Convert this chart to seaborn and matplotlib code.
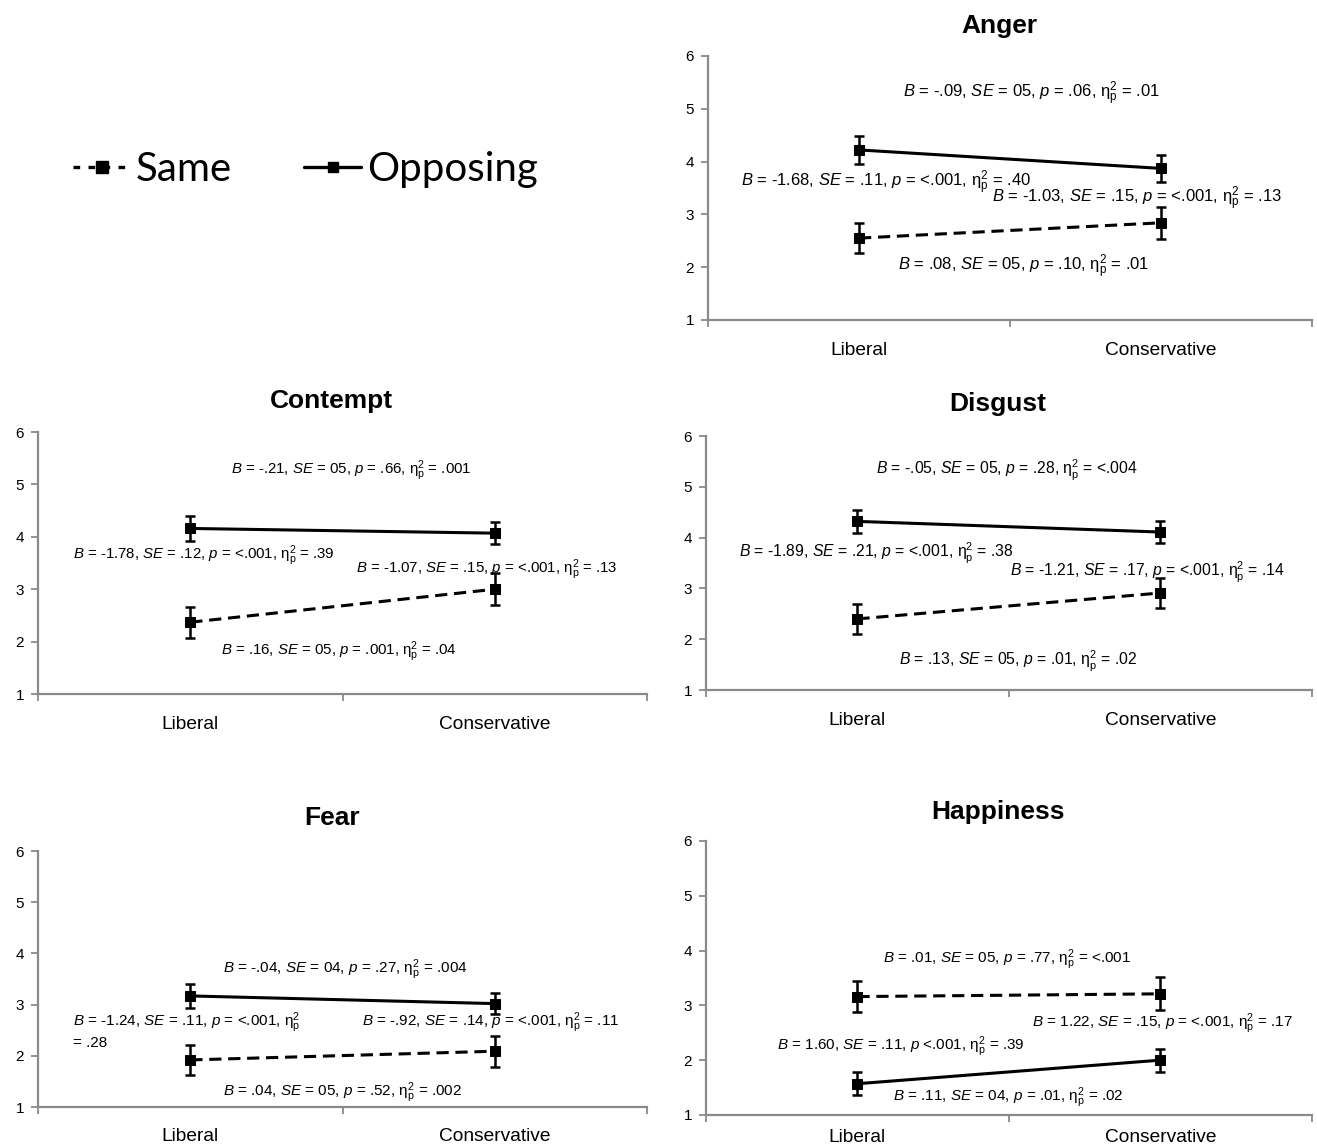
import numpy as np
import pandas as pd
import matplotlib
matplotlib.use("Agg")
import matplotlib.pyplot as plt
from matplotlib.lines import Line2D
from matplotlib.ticker import FixedLocator
import seaborn as sns

# ---- data ----
emotions = ["Anger", "Contempt", "Disgust", "Fear", "Happiness"]
ideology = ["Liberal", "Conservative"]
conditions = ["Same", "Opposing"]

same_lib = [2.55, 2.37, 2.40, 1.92, 3.16]
same_con = [2.84, 3.00, 2.91, 2.09, 3.21]
same_lib_err = [0.29, 0.30, 0.29, 0.29, 0.29]
same_con_err = [0.30, 0.31, 0.29, 0.30, 0.30]

opp_lib = [4.22, 4.16, 4.32, 3.17, 1.57]
opp_con = [3.87, 4.07, 4.11, 3.02, 2.00]
opp_lib_err = [0.26, 0.24, 0.23, 0.23, 0.21]
opp_con_err = [0.26, 0.21, 0.22, 0.21, 0.21]

ETA = r"η$_\mathrm{p}^2$"
stats = {
    "Anger": [
        r"$B$ = -.09, $SE$ = 05, $p$ = .06, " + ETA + " = .01",
        r"$B$ = -1.68, $SE$ = .11, $p$ = <.001, " + ETA + " = .40",
        r"$B$ = -1.03, $SE$ = .15, $p$ = <.001, " + ETA + " = .13",
        r"$B$ = .08, $SE$ = 05, $p$ = .10, " + ETA + " = .01",
    ],
    "Contempt": [
        r"$B$ = -.21, $SE$ = 05, $p$ = .66, " + ETA + " = .001",
        r"$B$ = -1.78, $SE$ = .12, $p$ = <.001, " + ETA + " = .39",
        r"$B$ = -1.07, $SE$ = .15, $p$ = <.001, " + ETA + " = .13",
        r"$B$ = .16, $SE$ = 05, $p$ = .001, " + ETA + " = .04",
    ],
    "Disgust": [
        r"$B$ = -.05, $SE$ = 05, $p$ = .28, " + ETA + " = <.004",
        r"$B$ = -1.89, $SE$ = .21, $p$ = <.001, " + ETA + " = .38",
        r"$B$ = -1.21, $SE$ = .17, $p$ = <.001, " + ETA + " = .14",
        r"$B$ = .13, $SE$ = 05, $p$ = .01, " + ETA + " = .02",
    ],
    "Fear": [
        r"$B$ = -.04, $SE$ = 04, $p$ = .27, " + ETA + " = .004",
        r"$B$ = -1.24, $SE$ = .11, $p$ = <.001, " + ETA + "\n= .28",
        r"$B$ = -.92, $SE$ = .14, $p$ = <.001, " + ETA + " = .11",
        r"$B$ = .04, $SE$ = 05, $p$ = .52, " + ETA + " = .002",
    ],
    "Happiness": [
        r"$B$ = .01, $SE$ = 05, $p$ = .77, " + ETA + " = <.001",
        r"$B$ = 1.60, $SE$ = .11, $p$ <.001, " + ETA + " = .39",
        r"$B$ = 1.22, $SE$ = .15, $p$ = <.001, " + ETA + " = .17",
        r"$B$ = .11, $SE$ = 04, $p$ = .01, " + ETA + " = .02",
    ],
}

# ---- layout (positions only) ----
axes_rect = {
    "Anger": [0.5376, 0.7208, 0.4586, 0.2304],
    "Contempt": [0.0289, 0.3944, 0.4624, 0.2286],
    "Disgust": [0.5360, 0.3979, 0.4601, 0.2216],
    "Fear": [0.0289, 0.0340, 0.4624, 0.2234],
    "Happiness": [0.5360, 0.0271, 0.4601, 0.2391],
}
text_pos = {
    "Anger": [(0.57, 5.28, "center"), (-0.39, 3.59, "left"), (0.44, 3.29, "left"), (0.13, 2.0, "left")],
    "Contempt": [(0.135, 5.27, "left"), (-0.386, 3.63, "left"), (0.545, 3.37, "left"), (0.10, 1.80, "left")],
    "Disgust": [(0.063, 5.33, "left"), (-0.39, 3.68, "left"), (0.503, 3.32, "left"), (0.136, 1.57, "left")],
    "Fear": [(0.109, 3.68, "left"), (-0.386, 2.50, "left"), (0.564, 2.64, "left"), (0.109, 1.27, "left")],
    "Happiness": [(0.083, 3.83, "left"), (-0.265, 2.24, "left"), (0.576, 2.66, "left"), (0.116, 1.31, "left")],
}
text_size = {"Anger": 12.0, "Contempt": 10.8, "Disgust": 11.3, "Fear": 11.0, "Happiness": 11.0}
title_y = {"Anger": 1.085, "Contempt": 1.09, "Disgust": 1.10, "Fear": 1.10, "Happiness": 1.08}
label_pad = {"Anger": 16, "Contempt": 16, "Disgust": 16, "Fear": 15, "Happiness": 10}

rows = []
for i, emo in enumerate(emotions):
    rows += [
        (emo, "Same", "Liberal", same_lib[i], same_lib_err[i]),
        (emo, "Same", "Conservative", same_con[i], same_con_err[i]),
        (emo, "Opposing", "Liberal", opp_lib[i], opp_lib_err[i]),
        (emo, "Opposing", "Conservative", opp_con[i], opp_con_err[i]),
    ]
df = pd.DataFrame(rows, columns=["Emotion", "Condition", "Ideology", "Rating", "Err"])

sns.set_theme(style="white")
plt.rcParams["font.family"] = ["Liberation Sans", "DejaVu Sans"]
plt.rcParams["mathtext.fontset"] = "custom"
plt.rcParams["mathtext.rm"] = "Liberation Sans"
plt.rcParams["mathtext.it"] = "Liberation Sans:italic"
plt.rcParams["text.color"] = "black"
plt.rcParams["xtick.labelcolor"] = "black"
plt.rcParams["ytick.labelcolor"] = "black"

AXIS_GREY = "#8a8a8a"
fig = plt.figure(figsize=(13.17, 11.46), dpi=100)

for emo in emotions:
    ax = fig.add_axes(axes_rect[emo])
    sub = df[df["Emotion"] == emo]
    sns.lineplot(
        data=sub, x="Ideology", y="Rating", style="Condition",
        style_order=conditions,
        dashes={"Same": (4, 2.2), "Opposing": ""},
        markers={"Same": "s", "Opposing": "s"},
        color="black", linewidth=2.2, markersize=7, markeredgecolor="black",
        sort=False, legend=False, ax=ax,
    )
    for cond in conditions:
        c = sub[sub["Condition"] == cond]
        ax.errorbar(np.arange(len(ideology)), c["Rating"].values, yerr=c["Err"].values,
                    fmt="none", ecolor="black", elinewidth=1.8, capsize=3.5, capthick=1.8)

    ax.set_xlim(-0.5, 1.5)
    ax.set_ylim(1, 6)
    ax.set_yticks(range(1, 7))
    ax.set_xticks([0, 1])
    ax.set_xticklabels(ideology)
    ax.xaxis.set_minor_locator(FixedLocator([-0.5, 0.5, 1.5]))
    ax.tick_params(axis="x", which="major", length=0, pad=label_pad[emo], labelsize=13.8)
    ax.tick_params(axis="x", which="minor", bottom=True, length=5, width=1.3,
                   color=AXIS_GREY, direction="out")
    ax.tick_params(axis="y", left=True, length=5, width=1.3, color=AXIS_GREY,
                   direction="out", labelsize=11, pad=5)
    ax.set_xlabel("")
    ax.set_ylabel("")
    for side in ["top", "right"]:
        ax.spines[side].set_visible(False)
    for side in ["left", "bottom"]:
        ax.spines[side].set_color(AXIS_GREY)
        ax.spines[side].set_linewidth(1.6)

    ax.set_title(emo, fontsize=19, fontweight="bold", x=0.482, y=title_y[emo], pad=0)

    for txt, (tx, ty, ha) in zip(stats[emo], text_pos[emo]):
        ax.text(tx, ty, txt, ha=ha, va="center", fontsize=text_size[emo], linespacing=1.1)

handles = [
    Line2D([], [], color="black", linestyle=(0, (2, 2.5)), linewidth=2.4,
           marker="s", markersize=8),
    Line2D([], [], color="black", linestyle="-", linewidth=2.4,
           marker="s", markersize=7),
]
fig.legend(handles, conditions, loc="center", bbox_to_anchor=(0.232, 0.852),
           ncol=2, frameon=False, prop={"family": "Lato", "size": 29},
           handlelength=1.4, handletextpad=0.15, columnspacing=1.8)

plt.savefig("out.png", dpi=100)
plt.close()
